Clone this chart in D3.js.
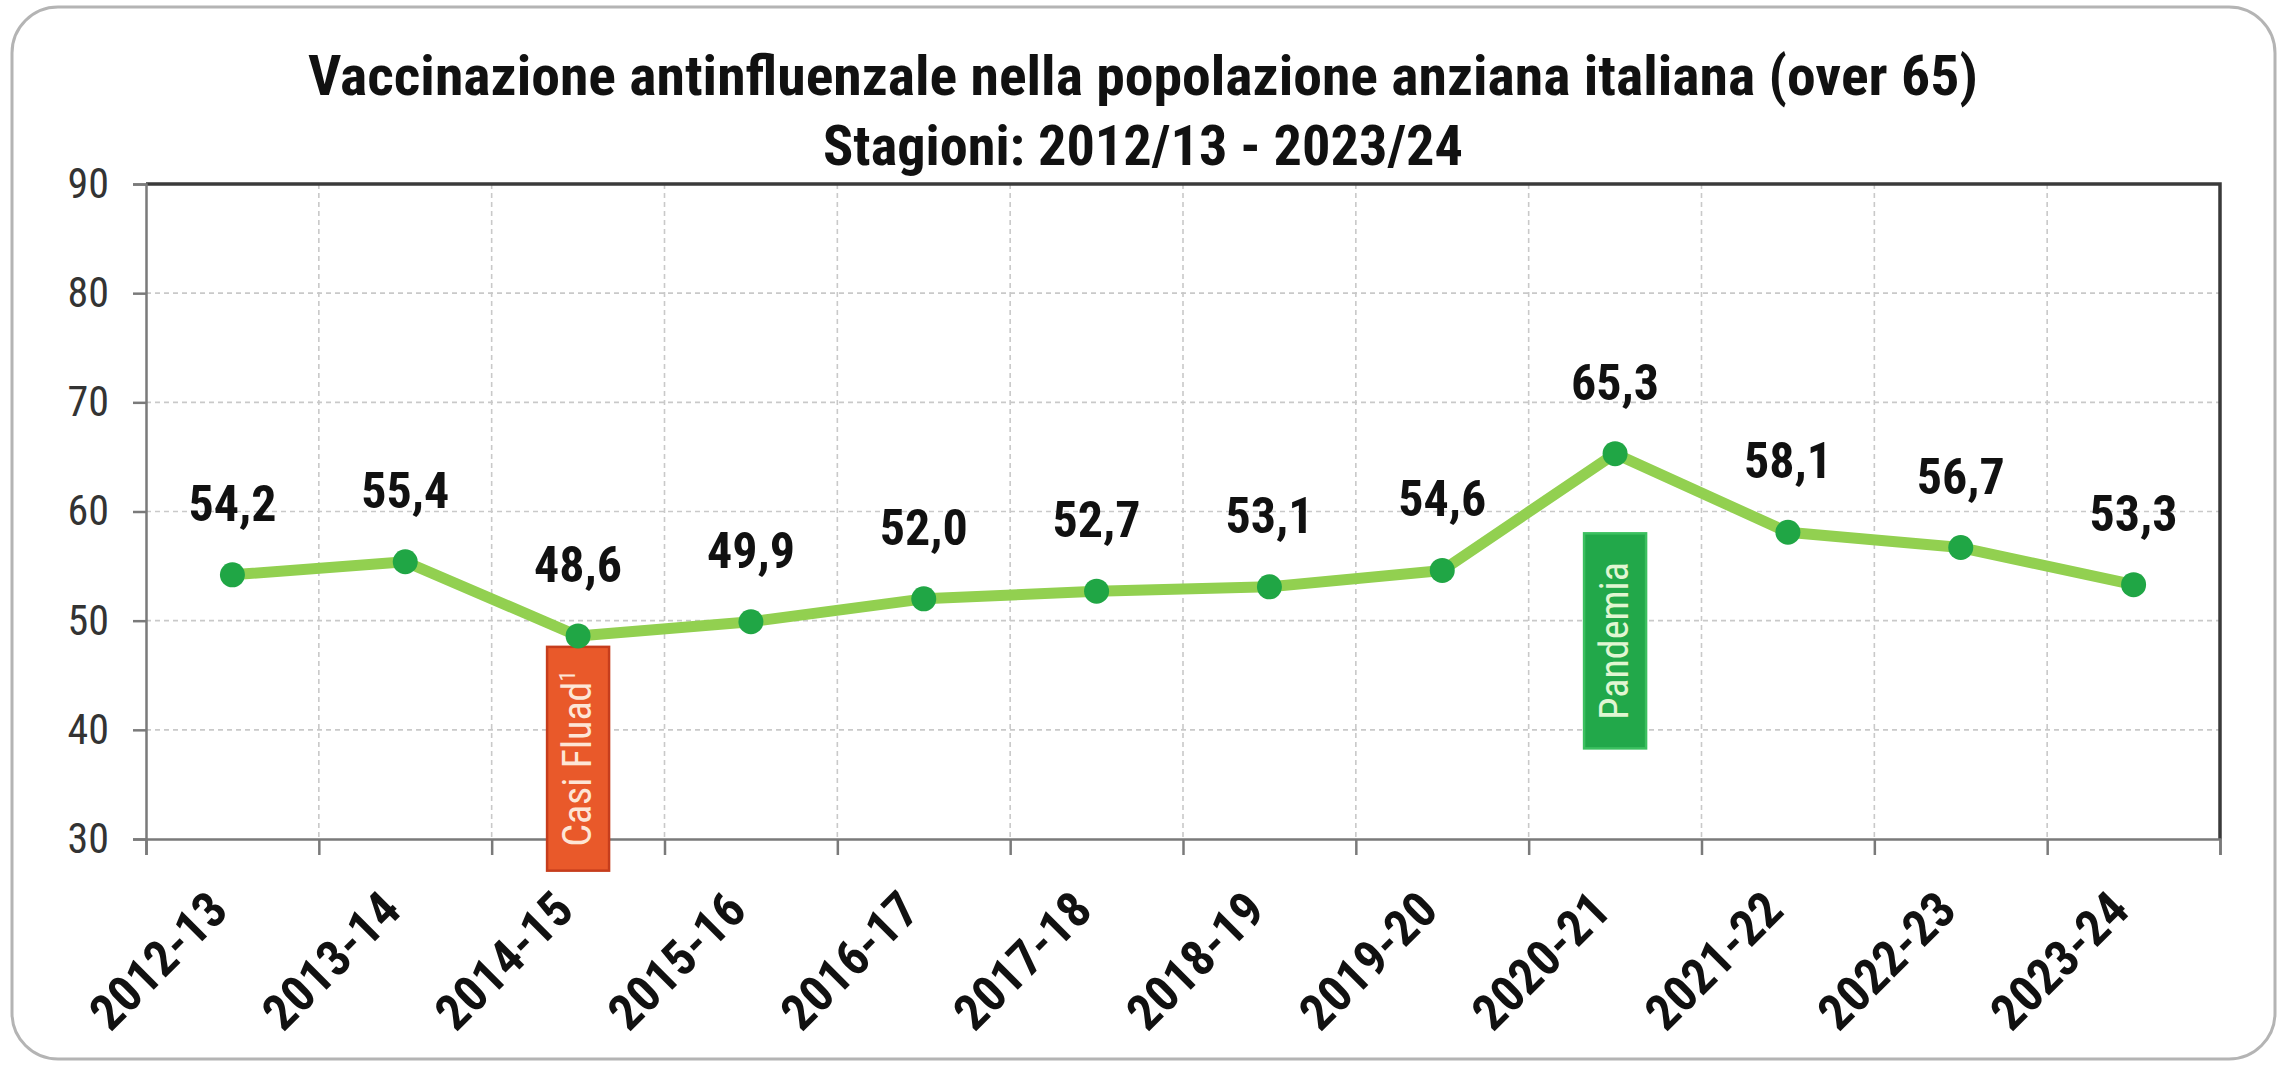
<!DOCTYPE html>
<html>
<head>
<meta charset="utf-8">
<script src="https://cdn.jsdelivr.net/npm/d3@7/dist/d3.min.js"></script>
<style>
  html, body { margin: 0; padding: 0; background: #fff; }
  svg { display: block; }
</style>
</head>
<body>
<div id="chart"></div>
<script>
// ── Data ────────────────────────────────────────────────────────────────────
var seasons  = ['2012-13', '2013-14', '2014-15', '2015-16', '2016-17', '2017-18',
                '2018-19', '2019-20', '2020-21', '2021-22', '2022-23', '2023-24'];
var coverage = [54.2, 55.4, 48.6, 49.9, 52.0, 52.7, 53.1, 54.6, 65.3, 58.1, 56.7, 53.3];
var yTicks   = [30, 40, 50, 60, 70, 80, 90];
var titleLines = ['Vaccinazione antinfluenzale nella popolazione anziana italiana (over 65)',
                  'Stagioni: 2012/13 - 2023/24'];
// annotation boxes: season, text, superscript, value range on the y axis
var notes = [
    { season: '2014-15', text: 'Casi Fluad', sup: '1', from: 27.1, to: 47.6 },
    { season: '2020-21', text: 'Pandemia',   sup: '',  from: 38.3, to: 58.0 }
];

// ── Layout / styles ─────────────────────────────────────────────────────────
var W = 2290, H = 1067;
var plot = { left: 146, right: 2220, top: 184, bottom: 839 };
var NARROW = "'Liberation Sans Narrow', 'Arial Narrow', 'Roboto Condensed', sans-serif";
var titleWidths = [1670, 640];
var noteStyle = {
    'Casi Fluad': { fill: '#e9592a', stroke: '#c63d1c', text: '#fde6d6' },
    'Pandemia':   { fill: '#22a84a', stroke: '#3cc060', text: '#e0f6d2' }
};
var fmt = d3.formatLocale({ decimal: ',', thousands: '.', grouping: [3], currency: ['', '€'] })
            .format('.1f');

var svg = d3.select('#chart').append('svg')
    .attr('width', W).attr('height', H);

// outer rounded frame
svg.append('rect')
    .attr('x', 12).attr('y', 7)
    .attr('width', 2263).attr('height', 1052)
    .attr('rx', 46).attr('ry', 46)
    .attr('fill', '#fff')
    .attr('stroke', '#b4b4b4').attr('stroke-width', 3);

var x = d3.scaleBand().domain(seasons).range([plot.left, plot.right]);
var xEdge = d3.scaleLinear().domain([0, seasons.length]).range([plot.left, plot.right]);
var y = d3.scaleLinear().domain([30, 90]).range([plot.bottom, plot.top]);
var cx = function (s) { return x(s) + x.bandwidth() / 2; };

// ── Grid ────────────────────────────────────────────────────────────────────
var grid = svg.append('g');
grid.selectAll('line.h').data(yTicks.slice(1, -1)).enter().append('line')
    .attr('x1', plot.left).attr('x2', plot.right)
    .attr('y1', y).attr('y2', y)
    .attr('stroke', '#c9c9c9').attr('stroke-width', 1.6)
    .attr('stroke-dasharray', '5 4');
grid.selectAll('line.v').data(d3.range(1, seasons.length)).enter().append('line')
    .attr('x1', xEdge).attr('x2', xEdge)
    .attr('y1', plot.top).attr('y2', plot.bottom)
    .attr('stroke', '#c9c9c9').attr('stroke-width', 1.6)
    .attr('stroke-dasharray', '5 4');

// top and right frame
svg.append('path')
    .attr('d', 'M' + plot.left + ',' + plot.top + 'H' + plot.right + 'V' + plot.bottom)
    .attr('fill', 'none').attr('stroke', '#3a3a3a').attr('stroke-width', 3.5);

// ── Axes ────────────────────────────────────────────────────────────────────
var yAxis = svg.append('g')
    .attr('transform', 'translate(' + plot.left + ',0)')
    .call(d3.axisLeft(y).tickValues(yTicks).tickSize(13).tickPadding(24));
yAxis.select('.domain').attr('stroke', '#7a7a7a').attr('stroke-width', 2.5);
yAxis.selectAll('.tick line').attr('stroke', '#7a7a7a').attr('stroke-width', 2.5);
yAxis.selectAll('.tick text')
    .attr('font-family', NARROW).attr('font-size', 42).attr('fill', '#333');

var xTicks = svg.append('g')
    .attr('transform', 'translate(0,' + plot.bottom + ')')
    .call(d3.axisBottom(xEdge).tickValues(d3.range(0, seasons.length + 1))
        .tickSize(16).tickFormat(''));
xTicks.select('.domain').attr('stroke', '#7a7a7a').attr('stroke-width', 2.5);
xTicks.selectAll('.tick line').attr('stroke', '#7a7a7a').attr('stroke-width', 2.5);

// rotated category labels
svg.append('g').selectAll('g').data(seasons).enter().append('g')
    .attr('transform', function (s) {
        return 'translate(' + (cx(s) - 2) + ',' + (plot.bottom + 74) + ') rotate(-45)';
    })
    .append('text')
    .attr('text-anchor', 'end')
    .attr('font-family', NARROW).attr('font-size', 50).attr('font-weight', 'bold')
    .attr('fill', '#111')
    .text(function (s) { return s; });

// ── Annotation boxes ────────────────────────────────────────────────────────
var noteG = svg.selectAll('g.note').data(notes).enter().append('g');
noteG.append('rect')
    .attr('x', function (d) { return cx(d.season) - 31; })
    .attr('width', 62)
    .attr('y', function (d) { return y(d.to); })
    .attr('height', function (d) { return y(d.from) - y(d.to); })
    .attr('fill', function (d) { return noteStyle[d.text].fill; })
    .attr('stroke', function (d) { return noteStyle[d.text].stroke; })
    .attr('stroke-width', 2.5);
var noteText = noteG.append('text')
    .attr('transform', function (d) {
        return 'translate(' + (cx(d.season) + 13) + ',' + ((y(d.from) + y(d.to)) / 2) + ') rotate(-90)';
    })
    .attr('text-anchor', 'middle')
    .attr('font-family', NARROW).attr('font-size', 40)
    .attr('fill', function (d) { return noteStyle[d.text].text; });
noteText.append('tspan').text(function (d) { return d.text; });
noteText.append('tspan')
    .attr('font-size', 22).attr('dy', -16)
    .text(function (d) { return d.sup; });

// ── Line and markers ────────────────────────────────────────────────────────
var pts = seasons.map(function (s, i) { return { s: s, v: coverage[i] }; });
svg.append('path')
    .datum(pts)
    .attr('fill', 'none')
    .attr('stroke', '#92d050').attr('stroke-width', 11)
    .attr('stroke-linejoin', 'round')
    .attr('d', d3.line().x(function (d) { return cx(d.s); }).y(function (d) { return y(d.v); }));
svg.selectAll('circle.pt').data(pts).enter().append('circle')
    .attr('cx', function (d) { return cx(d.s); })
    .attr('cy', function (d) { return y(d.v); })
    .attr('r', 12.5)
    .attr('fill', '#20a645');

svg.selectAll('text.val').data(pts).enter().append('text')
    .attr('x', function (d) { return cx(d.s); })
    .attr('y', function (d) { return y(d.v) - 54; })
    .attr('text-anchor', 'middle')
    .attr('font-family', NARROW).attr('font-size', 50).attr('font-weight', 'bold')
    .attr('fill', '#111')
    .text(function (d) { return fmt(d.v); });

// ── Title ───────────────────────────────────────────────────────────────────
svg.selectAll('text.title').data(titleLines).enter().append('text')
    .attr('x', 1143)
    .attr('y', function (d, i) { return 95 + i * 70; })
    .attr('text-anchor', 'middle')
    .attr('textLength', function (d, i) { return titleWidths[i]; })
    .attr('lengthAdjust', 'spacingAndGlyphs')
    .attr('font-family', NARROW).attr('font-size', 55).attr('font-weight', 'bold')
    .attr('fill', '#111')
    .text(function (d) { return d; });
</script>
</body>
</html>
